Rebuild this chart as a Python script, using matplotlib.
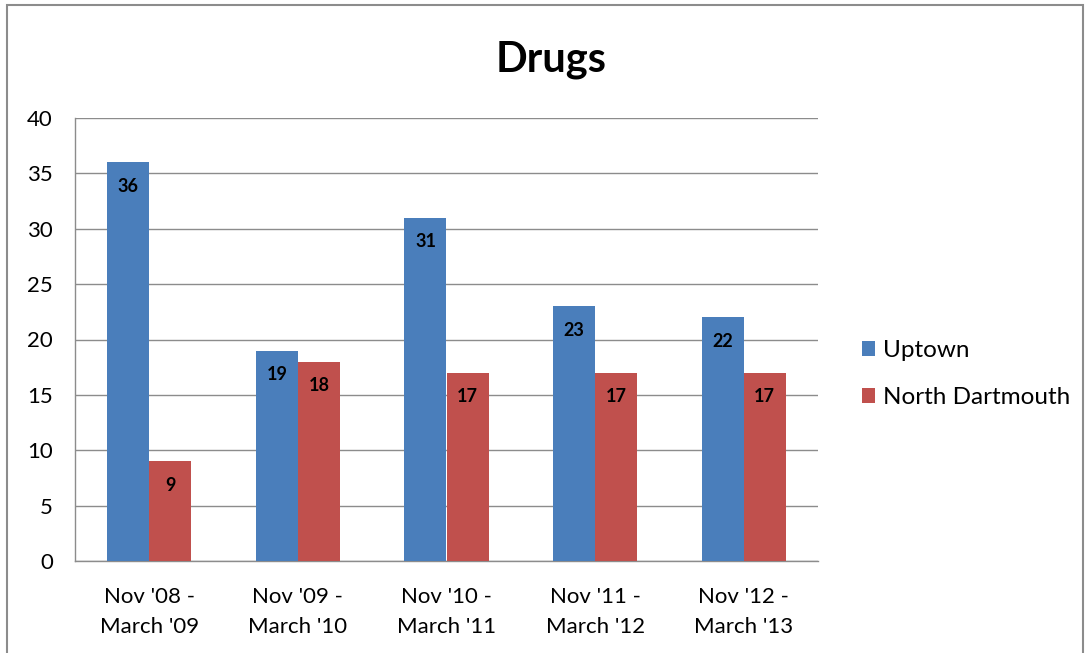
import matplotlib
matplotlib.use("Agg")
import matplotlib.pyplot as plt
from matplotlib.patches import Rectangle, Patch
import numpy as np

categories = ["Nov '08 -\nMarch '09", "Nov '09 -\nMarch '10", "Nov '10 -\nMarch '11",
              "Nov '11 -\nMarch '12", "Nov '12 -\nMarch '13"]
uptown = [36, 19, 31, 23, 22]
north_dartmouth = [9, 18, 17, 17, 17]
series_names = ["Uptown", "North Dartmouth"]
title = "Drugs"

plt.rcParams['font.family'] = ['Lato', 'DejaVu Sans']

W, H = 1086, 653
fig = plt.figure(figsize=(W / 100, H / 100), dpi=100)
fig.patch.set_facecolor('white')

# outer border (bottom edge lies outside the image)
fig.patches.append(Rectangle((7 / W, -0.05), (1083 - 7) / W, 1.05 - 5 / H, transform=fig.transFigure,
                             fill=False, edgecolor='#8c8c8c', linewidth=1.5))

ax = fig.add_axes([75 / W, 1 - 561 / H, (818 - 75) / W, (561 - 118) / H])

blue = '#4a7ebb'
red = '#c0504d'
x = np.arange(len(categories))
bw = 0.283
b1 = ax.bar(x - bw / 2, uptown, bw, color=blue, zorder=3, label=series_names[0])
b2 = ax.bar(x + bw / 2, north_dartmouth, bw, color=red, zorder=3, label=series_names[1])

for bars, vals in ((b1, uptown), (b2, north_dartmouth)):
    for rect, v in zip(bars, vals):
        ax.annotate(str(v), (rect.get_x() + rect.get_width() / 2, v), xytext=(0, -24),
                    textcoords='offset pixels', ha='center', va='center',
                    fontsize=13, fontweight='bold', color='black', zorder=4)

ax.set_xlim(-0.5, len(categories) - 0.5)
ax.set_ylim(0, 40)
ax.set_yticks(range(0, 41, 5))
ax.set_xticks(x)
ax.set_xticklabels(categories, fontsize=16, linespacing=1.6)
ax.tick_params(axis='y', labelsize=16, length=0, pad=16)
ax.tick_params(axis='x', length=0, pad=19)
ax.yaxis.grid(True, color='#8c8c8c', linewidth=1, zorder=0)
for s in ['top', 'right']:
    ax.spines[s].set_visible(False)
for s in ['left', 'bottom']:
    ax.spines[s].set_color('#8c8c8c')
    ax.spines[s].set_linewidth(1)

fig.text(551 / W, 1 - 60 / H, title, ha='center', va='center', fontsize=30, fontweight='bold')

handles = [Patch(facecolor=blue), Patch(facecolor=red)]
fig.legend(handles, series_names, loc='center left', bbox_to_anchor=(862 / W, 1 - 374 / H),
           frameon=False, fontsize=17.5, handlelength=0.55, handleheight=0.55, handletextpad=0.3,
           labelspacing=1.08, borderpad=0, borderaxespad=0)

fig.savefig('out.png', dpi=100)
